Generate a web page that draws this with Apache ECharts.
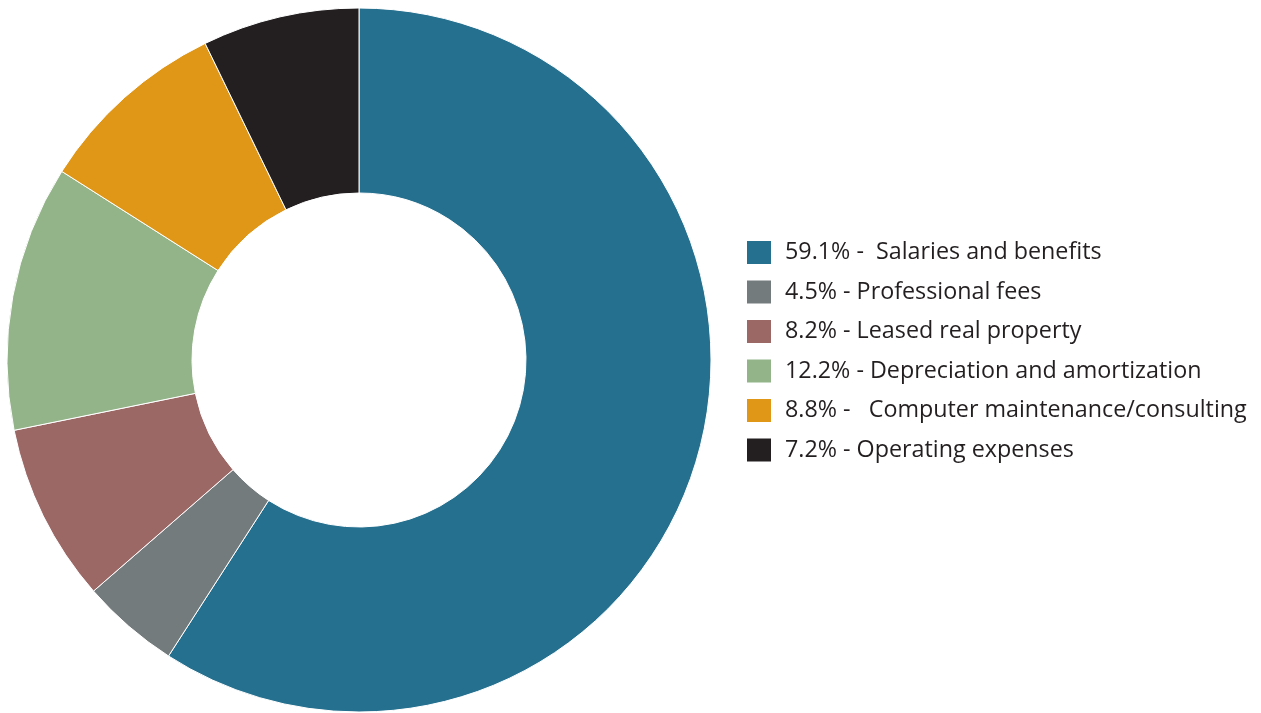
<!DOCTYPE html>
<html>
<head>
<meta charset="utf-8">
<script src="https://cdn.jsdelivr.net/npm/echarts@6/dist/echarts.min.js"></script>
<style>
  html, body { margin: 0; padding: 0; background: #ffffff; }
  #chart { width: 1261px; height: 713px; }
</style>
</head>
<body>
<div id="chart"></div>
<script>
// Expense categories and their share of the total (%)
const categories = [
  ' Salaries and benefits',
  'Professional fees',
  'Leased real property',
  'Depreciation and amortization',
  '  Computer maintenance/consulting',
  'Operating expenses'
];
const shares = [59.1, 4.5, 8.2, 12.2, 8.8, 7.2];
const colors = ['#25708f', '#747b7c', '#9b6866', '#93b489', '#e09617', '#231f20'];

const legendText = categories.map((c, i) => shares[i].toFixed(1) + '% - ' + c);

const chart = echarts.init(document.getElementById('chart'), null, { renderer: 'canvas' });
chart.setOption({
  animation: false,
  color: colors,
  legend: {
    orient: 'vertical',
    left: 747,
    top: 241,
    padding: 0,
    itemWidth: 24,
    itemHeight: 23,
    itemGap: 16.5,
    icon: 'rect',
    selectedMode: false,
    itemStyle: { borderWidth: 0 },
    data: legendText,
    textStyle: {
      fontFamily: 'Open Sans',
      fontSize: 23.3,
      lineHeight: 23,
      color: '#231f20',
      padding: [0, 0, 0, 9]
    }
  },
  series: [{
    type: 'pie',
    center: [359, 360],
    radius: [167, 352],
    startAngle: 90,
    clockwise: true,
    label: { show: false },
    labelLine: { show: false },
    emphasis: { disabled: true },
    itemStyle: { borderColor: '#ffffff', borderWidth: 1 },
    data: shares.map((v, i) => ({ name: legendText[i], value: v }))
  }]
});
</script>
</body>
</html>
